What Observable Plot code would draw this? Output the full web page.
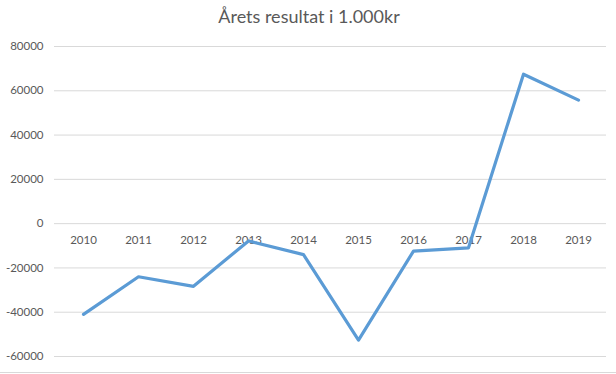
<!DOCTYPE html>
<html>
<head>
<meta charset="utf-8">
<script src="https://cdn.jsdelivr.net/npm/d3@7"></script>
<script src="https://cdn.jsdelivr.net/npm/@observablehq/plot@0.6"></script>
<style>
  html, body { margin: 0; padding: 0; background: #fff; }
  #wrap { position: relative; width: 616px; height: 374px; overflow: hidden; font-family: Lato, "Open Sans", sans-serif; }
  #title { position: absolute; left: 0; top: 5px; width: 618px; text-align: center; font-size: 18px; color: #595959; line-height: 22px; }
  #chart { position: absolute; left: 0; top: 40px; }
  #bottom { position: absolute; left: 0; top: 372px; width: 616px; height: 0; border-top: 1px solid #d9d9d9; }
</style>
</head>
<body>
<div id="wrap">
  <div id="title">Årets resultat i 1.000kr</div>
  <div id="chart"></div>
  <div id="bottom"></div>
</div>
<script>
const years = ["2010","2011","2012","2013","2014","2015","2016","2017","2018","2019"];
const results = [-41000, -24000, -28300, -7800, -14000, -52600, -12400, -10900, 67500, 55800];
const yTicks = [-60000, -40000, -20000, 0, 20000, 40000, 60000, 80000];

const data = years.map((year, i) => ({year, value: results[i]}));

const chart = Plot.plot({
  width: 616,
  height: 334,
  marginTop: 6,
  marginBottom: 18,
  marginLeft: 54,
  marginRight: 10,
  style: { fontFamily: "Lato, 'Open Sans', sans-serif", fontSize: "11.5px", color: "#595959", background: "#fff" },
  x: { type: "point", domain: years, padding: 0.5, axis: null },
  y: { domain: [-60000, 80000], ticks: yTicks, tickSize: 0, tickPadding: 11, label: null, tickFormat: d => String(d) },
  marks: [
    Plot.ruleY(yTicks, { stroke: "#d9d9d9", strokeWidth: 1 }),
    Plot.axisY({ ticks: yTicks, tickSize: 0, tickPadding: 11, label: null, tickFormat: d => String(d), fill: "#595959" }),
    Plot.text(years, { x: d => d, y: 0, dy: 17, text: d => d, fill: "#595959", fontSize: 11.5 }),
    Plot.line(data, { x: "year", y: "value", stroke: "#5b9bd5", strokeWidth: 3.2, strokeLinejoin: "round", strokeLinecap: "round" })
  ]
});
document.getElementById("chart").appendChild(chart);
</script>
</body>
</html>
